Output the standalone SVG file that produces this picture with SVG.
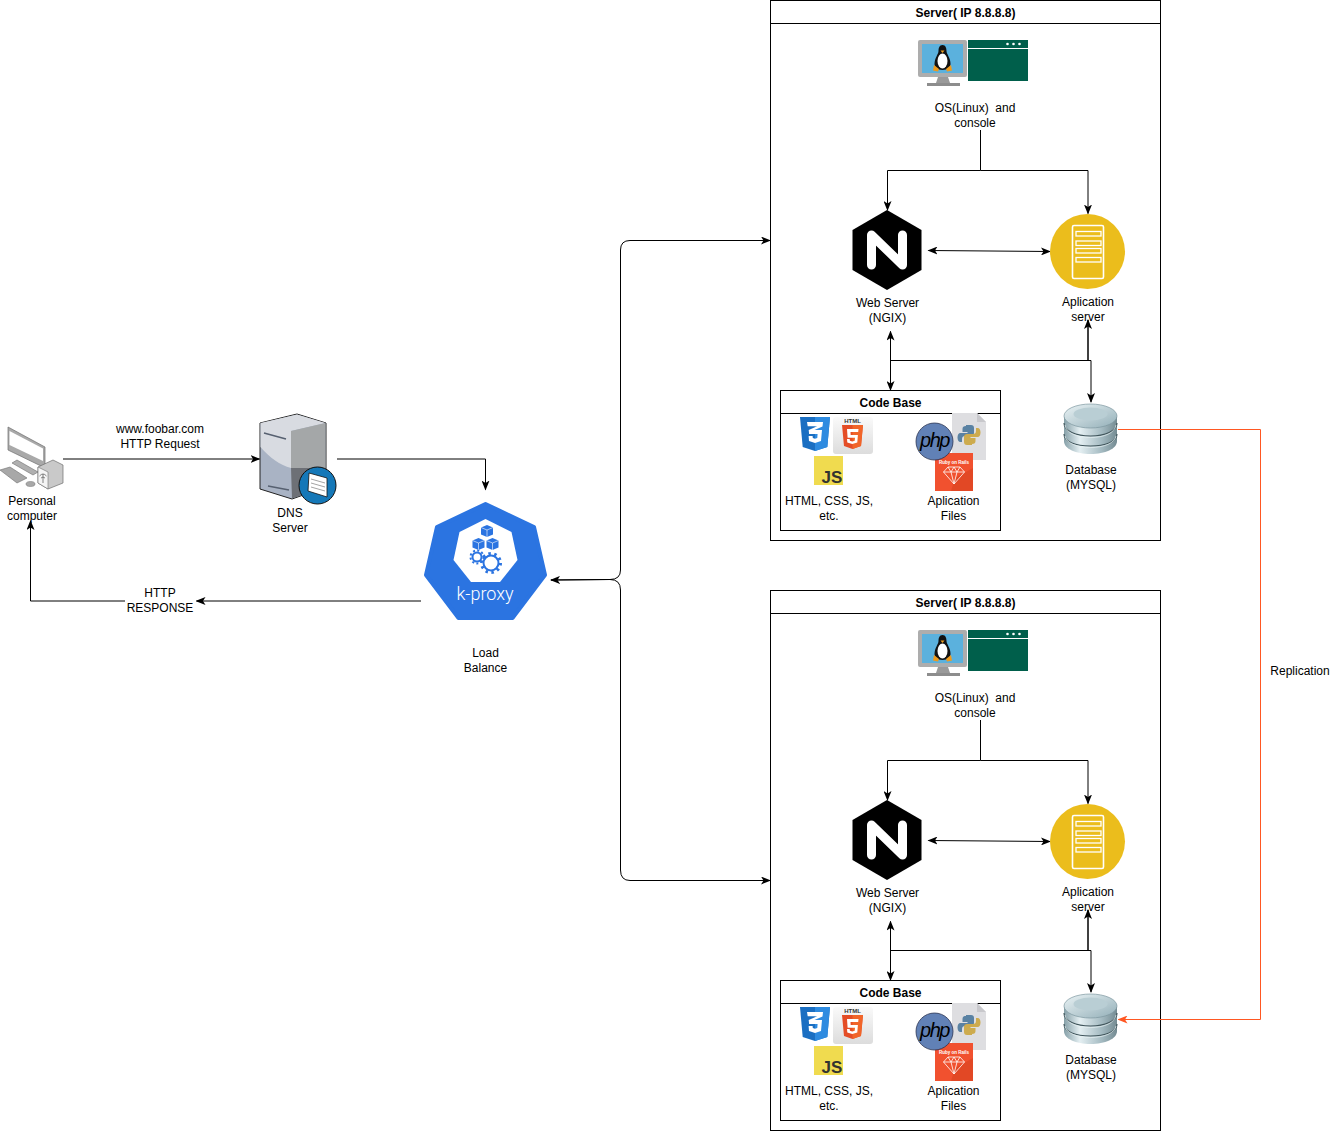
<svg xmlns="http://www.w3.org/2000/svg" xmlns:xlink="http://www.w3.org/1999/xlink" width="1332" height="1131" viewBox="0 0 1332 1131">
<style>
text{font-family:"Liberation Sans",Arial,sans-serif;font-size:12px;fill:#000;text-anchor:middle}
.b{font-weight:bold}
.box{fill:#fff;stroke:#000;stroke-width:1}
.c{fill:none;stroke:#000;stroke-width:1}
.t{fill:none;stroke:#000;stroke-width:1.500}
.r{fill:none;stroke:#FF5722;stroke-width:1}
</style>
<defs>
<marker id="a" viewBox="0 0 10 8" refX="9" refY="4" markerWidth="10" markerHeight="8" orient="auto-start-reverse" markerUnits="userSpaceOnUse"><path d="M0 0L10 4L0 8L2.500 4Z" fill="#000"/></marker>
<marker id="o" viewBox="0 0 10 8" refX="9" refY="4" markerWidth="10" markerHeight="8" orient="auto-start-reverse" markerUnits="userSpaceOnUse"><path d="M0 0L10 4L0 8L2.500 4Z" fill="#FF5722"/></marker>
<linearGradient id="dbg" x1="0" x2="1" y1="0" y2="0"><stop offset="0" stop-color="#86a0a8"/><stop offset=".3" stop-color="#e4eff2"/><stop offset=".7" stop-color="#a6bcc3"/><stop offset="1" stop-color="#748b92"/></linearGradient>
<linearGradient id="dbt" x1="0" x2="1" y1="0" y2="1"><stop offset="0" stop-color="#eaf3f5"/><stop offset="1" stop-color="#93afb8"/></linearGradient>
<linearGradient id="tile" x1="0" x2="0" y1="0" y2="1"><stop offset="0" stop-color="#fafafa"/><stop offset="1" stop-color="#dcdcdc"/></linearGradient>

<g id="i-os">
<rect x="918" y="40" width="49" height="37" rx="2" fill="#adadad"/>
<rect x="922" y="44" width="41" height="29" fill="#5BB1DD"/>
<path d="M938 77h10l2 6h-14z" fill="#9a9a9a"/><rect x="927" y="83" width="33" height="3" fill="#8d8d8d"/>
<path d="M942.500 45c-3 0-4 3-4 6 0 3-4 7-4 13 0 3 3 6 8 6s8-3 8-6c0-6-4-10-4-13 0-3-1-6-4-6z" fill="#111"/>
<ellipse cx="942.500" cy="61" rx="5" ry="7.500" fill="#fff"/>
<path d="M940.500 50.500h4l-2 2.500z" fill="#f0a020"/>
<path d="M934 65l5 4-1 2.500-5-1zM951 65l-5 4 1 2.500 5-1z" fill="#ef9a1c"/>
<rect x="968" y="40" width="60" height="41" fill="#005F4B"/>
<rect x="968" y="48" width="60" height="1" fill="#fff"/>
<circle cx="1007.500" cy="44" r="1.300" fill="#fff"/><circle cx="1013.500" cy="44" r="1.300" fill="#fff"/><circle cx="1019.500" cy="44" r="1.300" fill="#fff"/>
</g>

<g id="i-nginx">
<path d="M887 210L921.500 230V270L887 290L852.500 270V230Z" fill="#000"/>
<path d="M871.500 265V235L902.500 265V235" fill="none" stroke="#fff" stroke-width="9" stroke-linejoin="round" stroke-linecap="round"/>
</g>

<g id="i-app">
<circle cx="1087.500" cy="251.500" r="37.500" fill="#EBBD1C"/>
<rect x="1072.500" y="225.500" width="31" height="53" rx="1.500" fill="none" stroke="#fff" stroke-width="1.600"/>
<g fill="none" stroke="#fff" stroke-width="1.300"><rect x="1076" y="231.500" width="25" height="4.500"/><rect x="1076" y="241" width="25" height="4.500"/><rect x="1076" y="248.500" width="25" height="4.500"/><rect x="1076" y="257.500" width="25" height="4.500"/></g>
</g>

<g id="i-db">
<path d="M1064 417v24c0 8 12 13 26.500 13s26.500-5 26.500-13v-24z" fill="url(#dbg)"/>
<ellipse cx="1090.500" cy="416" rx="26.500" ry="12" fill="url(#dbt)" stroke="#7d979f" stroke-width=".7"/>
<ellipse cx="1090.500" cy="414" rx="17" ry="6.500" fill="#b9ced4"/>
<path d="M1064 423c0 8 12 13 26.500 13s26.500-5 26.500-13M1064 434c0 8 12 12 26.500 12s26.500-4 26.500-12" fill="none" stroke="#41565c" stroke-width="1.200"/>
<path d="M1065 425c1 8 12 12.500 25.500 12.500s24.500-4.500 25.500-12.500M1065 436c1 7 12 11.500 25.500 11.500s24.500-4.500 25.500-11.500" fill="none" stroke="#e8f2f4" stroke-width=".7"/>
</g>

<g id="i-css">
<path d="M800 417h30l-2.700 30L815 451l-12.300-4z" fill="#1B6FC2"/>
<path d="M815 417h15l-2.700 30L815 451z" fill="#2E8BE0"/>
<path d="M807 422h16l-.5 4.500-8 3.500h7.500l-1 11-6 2-6-2-.4-5h4l.2 2 2.200.7 2.300-.7.300-4h-8.500l-.4-4 8.500-3.700h-9.500z" fill="#fff"/>
</g>

<g id="i-html">
<rect x="833" y="417" width="40" height="37" rx="3" fill="url(#tile)"/>
<text x="852.500" y="423" style="font-size:6px;font-weight:bold;fill:#333">HTML</text>
<path d="M842 425h21l-2 21-8.500 3-8.500-3z" fill="#E44D26"/>
<path d="M852.500 425h10.500l-2 21-8.500 3z" fill="#F16529"/>
<path d="M847 429h11.500l-.3 3h-7.700l.2 3h7.200l-.6 7.500-5 1.500-5-1.500-.3-3.500h2.700l.2 1.800 2.400.7 2.400-.7.300-3h-7.400z" fill="#fff"/>
</g>

<g id="i-js">
<rect x="814" y="456" width="29" height="29" fill="#F0DB4F"/>
<text x="832" y="483" style="font-size:17px;font-weight:bold;fill:#323330">JS</text>
</g>

<g id="i-python">
<path d="M952 413h25l9 9v38h-34z" fill="#dedee1"/>
<path d="M977 413l9 9h-9z" fill="#c8c8cc"/>
<g transform="translate(-1 -1)">
<path d="M967 426h5c2 0 3 1 3 3v5c0 2-1 3-3 3h-6c-2 0-3 1-3 3v3h-1.500c-2 0-3-2-3-4.500s1-4.500 3-4.500h7v-1h-5v-3c0-2 1-3 3.500-3z" fill="#5A82A3"/>
<path d="M973 446h-5c-2 0-3-1-3-3v-5c0-2 1-3 3-3h6c2 0 3-1 3-3v-3h1.500c2 0 3 2 3 4.500s-1 4.500-3 4.500h-7v1h5v3c0 2-1 3-3.500 3z" fill="#CDAB4E"/>
</g>
</g>

<g id="i-ruby">
<rect x="935" y="453" width="38" height="38" fill="#F1512F"/>
<path d="M955 478l18-10v23h-22z" fill="#D9431F" opacity=".6"/>
<text x="954" y="463.500" style="font-size:4.500px;font-weight:bold;fill:#fff">Ruby on Rails</text>
<path d="M948 467h12l4.500 5-10.500 12-10.500-12zM943.500 472h21M951 472l3 12 3-12M948 467l3 5 3-5 3 5 3-5" fill="none" stroke="#fff" stroke-width=".8"/>
</g>

<g id="i-php">
<ellipse cx="934.500" cy="441.500" rx="18.500" ry="18.500" fill="#6181B6" stroke="#2b3450" stroke-width=".8"/>
<text x="934.500" y="447" style="font-size:20px;font-style:italic;fill:#000;letter-spacing:-1.500px">php</text>
</g>
</defs>

<rect width="1332" height="1131" fill="#fff"/>

<g id="server-1">
<rect class="box" x="770.500" y="0.500" width="390" height="540"/>
<path class="c" d="M770.500 23.500H1160.500"/>
<text class="b" x="965.500" y="17">Server( IP 8.8.8.8)</text>
</g>
<g id="server-2">
<rect class="box" x="770.500" y="590.500" width="390" height="540"/>
<path class="c" d="M770.500 613.500H1160.500"/>
<text class="b" x="965.500" y="607">Server( IP 8.8.8.8)</text>
</g>

<g id="connectors">
<path class="c" d="M63 459H259.500" marker-end="url(#a)"/>
<path class="c" d="M337 459H485.500V489.500" marker-end="url(#a)"/>
<path class="c" d="M421 601H196.500" marker-end="url(#a)"/>
<path class="c" d="M125 601H30.500V521" marker-end="url(#a)"/>
<path class="c" d="M551 580L610 579.500Q620.500 579.500 620.500 570V250Q620.500 240.500 630 240.500H770" marker-start="url(#a)" marker-end="url(#a)"/>
<path class="c" d="M551 580L610 579.500Q620.500 579.500 620.500 590V870Q620.500 880.500 630 880.500H770" marker-end="url(#a)"/>
<path class="r" d="M1118 429.500H1260.500V1019.500H1118.500" marker-end="url(#o)"/>
<g id="conn-s1">
<path class="c" d="M980.500 130V170.500H887.500V210" marker-end="url(#a)"/>
<path class="c" d="M980.500 170.500H1088V213.500" marker-end="url(#a)"/>
<path class="c" d="M928.500 250.500L1050 251.500" marker-start="url(#a)" marker-end="url(#a)"/>
<path class="c" d="M890.500 331.500V390" marker-start="url(#a)" marker-end="url(#a)"/>
<path class="t" d="M1088 360.500V320" marker-end="url(#a)"/>
<path class="c" d="M890.500 360.500H1091V402" marker-end="url(#a)"/>
</g>
<g id="conn-s2">
<path class="c" d="M980.500 720V760.500H887.500V800" marker-end="url(#a)"/>
<path class="c" d="M980.500 760.500H1088V803.500" marker-end="url(#a)"/>
<path class="c" d="M928.500 840.500L1050 841.500" marker-start="url(#a)" marker-end="url(#a)"/>
<path class="c" d="M890.500 921.500V980" marker-start="url(#a)" marker-end="url(#a)"/>
<path class="t" d="M1088 950.500V910" marker-end="url(#a)"/>
<path class="c" d="M890.500 950.500H1091V992" marker-end="url(#a)"/>
</g>
</g>

<g id="pc">
<path d="M8 427L45 447V468L41 466L8 450Z" fill="#a9a9a9" stroke="#6f6f6f" stroke-width=".7"/>
<path d="M9.500 431L43 448.500V461L9.500 445Z" fill="#fff"/>
<path d="M12 463L33 475L38 472L17 460Z" fill="#b0b0b0" stroke="#6f6f6f" stroke-width=".6"/>
<path d="M0 470L10 467L27 478L17 483Z" fill="#a8a8a8" stroke="#6f6f6f" stroke-width=".6"/>
<ellipse cx="30.500" cy="484" rx="4.500" ry="2.500" fill="#a8a8a8" stroke="#6f6f6f" stroke-width=".5"/>
<path d="M38 467L53 460L63 465V483L48 489L38 483Z" fill="#c9c9c9" stroke="#6f6f6f" stroke-width=".7"/>
<path d="M38 467L48 472V489L38 483Z" fill="#f5f5f5" stroke="#6f6f6f" stroke-width=".6"/>
<path d="M43 483V474M39.500 476q3.500-4 7 0M41 478q2-2 4 0" fill="none" stroke="#555" stroke-width=".7"/>
<text x="32" y="505">Personal</text>
<text x="32" y="520">computer</text>
</g>

<g id="dns">
<path d="M297 414L260 423V489L292 499L326 487V423Z" fill="#A9B3C4" stroke="#222" stroke-width="1"/>
<path d="M297 414.500L260.500 423V447C270 458 280 465 291 468L291 431L325.500 423Z" fill="#D8DBE1"/>
<path d="M291 431L325.500 423V468L291 468Z" fill="#A4A7A8"/>
<path d="M291 468L325.500 468V487L292 498.500Z" fill="#6D7076"/>
<path d="M264 433L286 439M268 486L289 490" stroke="#566070" stroke-width="1.500" fill="none"/>
<circle cx="317.500" cy="485.500" r="18.500" fill="#1578B8" stroke="#111" stroke-width="1"/>
<path d="M309 473L327 478V497L308 491Z" fill="#fff" stroke="#111" stroke-width=".8"/>
<path d="M311 479L325 483M311 483L325 487M311 487L325 491" stroke="#666" stroke-width=".6"/>
<text x="290" y="517">DNS</text>
<text x="290" y="532">Server</text>
</g>

<g id="loadbalance">
<path d="M485.500 504L534 527L545 575L512.500 618H458.500L426 575L437 527Z" fill="#2B74E1" stroke="#2B74E1" stroke-width="4" stroke-linejoin="round"/>
<path d="M485.500 519L511.500 532L517.500 560L500 582H471L453.500 560L459.500 532Z" fill="#fff"/>
<g fill="#2B74E1"><path d="M481 527.500L487 525L493 527.500V534.500L487 537L481 534.500Z"/><path d="M472.500 540.500L478.500 538L484.500 540.500V547.500L478.500 550L472.500 547.500Z"/><path d="M486.500 540.500L492.500 538L498.500 540.500V547.500L492.500 550L486.500 547.500Z"/></g>
<path d="M481 527.500L487 530L493 527.500M487 530V537M472.500 540.500L478.500 543L484.500 540.500M478.500 543V550M486.500 540.500L492.500 543L498.500 540.500M492.500 543V550" fill="none" stroke="#fff" stroke-width=".6"/>
<circle cx="477" cy="557" r="4.500" fill="#fff" stroke="#2B74E1" stroke-width="2"/>
<circle cx="477" cy="557" r="6.500" fill="none" stroke="#2B74E1" stroke-width="2" stroke-dasharray="2 2.300"/>
<circle cx="491" cy="563" r="7.500" fill="#fff" stroke="#2B74E1" stroke-width="2"/>
<circle cx="491" cy="563" r="9.500" fill="none" stroke="#2B74E1" stroke-width="3" stroke-dasharray="2.500 3.470"/>
<text x="485" y="600" style="font-family:Roboto,'Open Sans',sans-serif;font-weight:300;font-size:18px;fill:#fff">k-proxy</text>
<text x="485.500" y="657">Load</text>
<text x="485.500" y="672">Balance</text>
</g>

<g id="http-request"><text x="160" y="433">www.foobar.com</text><text x="160" y="448">HTTP Request</text></g>
<g id="http-response"><text x="160" y="597">HTTP</text><text x="160" y="612">RESPONSE</text></g>
<g id="replication"><text x="1300" y="675">Replication</text></g>

<g id="s1-os"><use href="#i-os"/><text x="975" y="112" xml:space="preserve">OS(Linux)  and</text><text x="975" y="127">console</text></g>
<g id="s1-web"><use href="#i-nginx"/><text x="887.500" y="307">Web Server</text><text x="887.500" y="322">(NGIX)</text></g>
<g id="s1-app"><use href="#i-app"/><text x="1088" y="306">Aplication</text><text x="1088" y="321">server</text></g>
<g id="s1-db"><use href="#i-db"/><text x="1091" y="474">Database</text><text x="1091" y="489">(MYSQL)</text></g>
<g id="s1-code">
<rect class="box" x="780.500" y="390.500" width="220" height="140"/>
<path class="c" d="M780.500 413.500H1000.500"/>
<text class="b" x="890.500" y="407">Code Base</text>
<use href="#i-css"/><use href="#i-html"/><use href="#i-js"/><use href="#i-python"/><use href="#i-ruby"/><use href="#i-php"/>
<text x="829" y="505">HTML, CSS, JS,</text><text x="829" y="520">etc.</text>
<text x="953.500" y="505">Aplication</text><text x="953.500" y="520">Files</text>
</g>

<g id="s2-os" transform="translate(0 590)"><use href="#i-os"/><text x="975" y="112" xml:space="preserve">OS(Linux)  and</text><text x="975" y="127">console</text></g>
<g id="s2-web" transform="translate(0 590)"><use href="#i-nginx"/><text x="887.500" y="307">Web Server</text><text x="887.500" y="322">(NGIX)</text></g>
<g id="s2-app" transform="translate(0 590)"><use href="#i-app"/><text x="1088" y="306">Aplication</text><text x="1088" y="321">server</text></g>
<g id="s2-db" transform="translate(0 590)"><use href="#i-db"/><text x="1091" y="474">Database</text><text x="1091" y="489">(MYSQL)</text></g>
<g id="s2-code" transform="translate(0 590)">
<rect class="box" x="780.500" y="390.500" width="220" height="140"/>
<path class="c" d="M780.500 413.500H1000.500"/>
<text class="b" x="890.500" y="407">Code Base</text>
<use href="#i-css"/><use href="#i-html"/><use href="#i-js"/><use href="#i-python"/><use href="#i-ruby"/><use href="#i-php"/>
<text x="829" y="505">HTML, CSS, JS,</text><text x="829" y="520">etc.</text>
<text x="953.500" y="505">Aplication</text><text x="953.500" y="520">Files</text>
</g>
</svg>
